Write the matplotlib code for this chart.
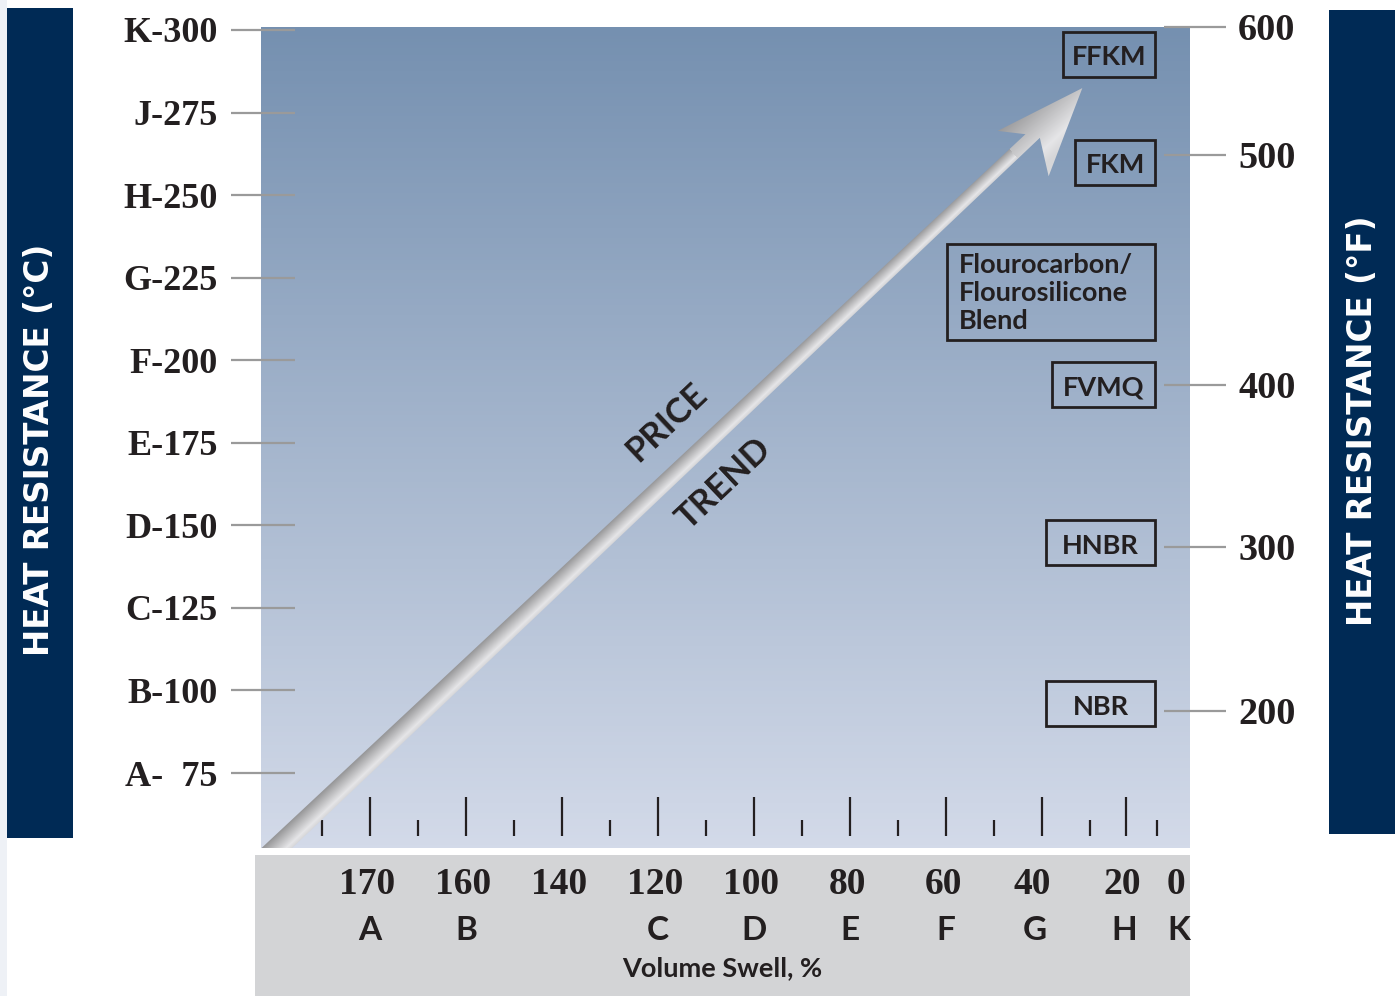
import numpy as np
import matplotlib
matplotlib.use("Agg")
import matplotlib.pyplot as plt
from matplotlib.patches import Rectangle, Polygon
from matplotlib.colors import LinearSegmentedColormap

# ---- chart content -------------------------------------------------------
# Heat-resistance grades on the Celsius scale (left)
c_labels = ["K-300", "J-275", "H-250", "G-225", "F-200",
            "E-175", "D-150", "C-125", "B-100", "A-  75"]
c_values = [300, 275, 250, 225, 200, 175, 150, 125, 100, 75]

# Fahrenheit marks (right) and the Celsius level each one sits at
f_labels = ["600", "500", "400", "300", "200"]
f_at_c = [300.9, 262.2, 192.6, 143.5, 93.9]

# Elastomer families and their heat-resistance level (°C)
materials = ["FFKM", "FKM", "Flourocarbon/\nFlourosilicone\nBlend",
             "FVMQ", "HNBR", "NBR"]
material_c = [292.6, 260.0, 220.7, 192.6, 144.8, 96.0]

# Volume swell classes along the bottom (slot index on the x scale)
swell_labels = ["170", "160", "140", "120", "100", "80", "60", "40", "20", "0"]
swell_grades = ["A", "B", "", "C", "D", "E", "F", "G", "H", "K"]
swell_slot = [0, 1, 2, 3, 4, 5, 6, 6.93, 7.86, 8.42]
major_slots = [0, 1, 2, 3, 4, 5, 6, 7, 7.88]
minor_slots = [-0.5, 0.5, 1.5, 2.5, 3.5, 4.5, 5.5, 6.5, 7.5, 8.2]

# Price trend arrow: from the lower-left corner up to the FFKM level
trend_from = (-0.97, 52.3)
trend_to = (7.42, 282.4)

# ---- styling ---------------------------------------------------------------
W, H, DPI = 1395, 996, 100
NAVY = "#002a55"
INK = "#231f20"
RULE = "#9a9a9a"
SERIF = ["Liberation Serif", "DejaVu Serif"]
SANS = ["Lato", "DejaVu Sans"]
HEAD = ["DejaVu Sans"]
BOX_RIGHT = 1155                       # right edge of the material boxes (px)
BOX_W = [92, 80, 208, 103, 109, 109]   # box widths (px)
BOX_H = [45, 45, 96, 45, 45, 45]       # box heights (px)

fig = plt.figure(figsize=(W / DPI, H / DPI), dpi=DPI)
fig.patch.set_facecolor("white")


def fx(px):
    return px / W


def fy(py):
    return 1 - py / H


def backdrop(x, y, w, h, color):
    # figure-level filled block kept beneath the axes
    fig.patches.append(Rectangle((x, y), w, h, transform=fig.transFigure,
                                 fc=color, ec="none", zorder=-5))


# side bars with rotated axis titles
backdrop(0, 0, fx(7), 1, "#eef1f6")
backdrop(fx(7), fy(838), fx(66), (838 - 8) / H, NAVY)
backdrop(fx(1329), fy(834), fx(66), (834 - 10) / H, NAVY)
fig.text(fx(40), fy(450), "HEAT RESISTANCE (\u00b0C)", rotation=90,
         ha="center", va="center", color="white", fontsize=23.5,
         fontweight="bold", family=HEAD)
fig.text(fx(1362), fy(421), "HEAT RESISTANCE (\u00b0F)", rotation=90,
         ha="center", va="center", color="white", fontsize=23.5,
         fontweight="bold", family=HEAD)

# grey band under the chart holding the swell scale
backdrop(fx(255), 0, (1190 - 255) / W, (996 - 855) / H, "#d3d4d6")

# ---- main panel ------------------------------------------------------------
L, R, T, B = 261, 1190, 27, 848
ax = fig.add_axes([fx(L), fy(B), (R - L) / W, (B - T) / H])
xlim = ((L - 370) / 96, (R - 370) / 96)
ylim = (52.3, 300.9)

bg = LinearSegmentedColormap.from_list("bg", ["#d3dae9", "#7590b0"])
ax.imshow(np.linspace(0, 1, 256)[:, None], extent=(*xlim, *ylim),
          origin="lower", aspect="auto", cmap=bg, zorder=0)
ax.set_xlim(*xlim)
ax.set_ylim(*ylim)
ax.set_axis_off()

ytr = ax.get_yaxis_transform()
xtr = ax.get_xaxis_transform()

# Celsius scale
for lab, v in zip(c_labels, c_values):
    ax.plot([-0.0323, 0.0366], [v, v], transform=ytr, color=RULE, lw=1.6,
            clip_on=False, solid_capstyle="butt", zorder=2)
    ax.text(-0.0463, v, lab, transform=ytr, ha="right", va="center_baseline",
            fontsize=26, fontweight="bold", family=SERIF, color=INK)

# Fahrenheit scale with leader lines
for lab, v in zip(f_labels, f_at_c):
    ax.plot([0.972, 1.039], [v, v], transform=ytr, color=RULE, lw=1.6,
            clip_on=False, solid_capstyle="butt", zorder=2)
    ax.text(1.0517, v, lab, transform=ytr, ha="left", va="center_baseline",
            fontsize=27.5, fontweight="bold", family=SERIF, color=INK)

# swell ticks inside the panel
ax.vlines(major_slots, 0.0146, 0.062, transform=xtr, color=INK, lw=1.6, zorder=2)
ax.vlines(minor_slots, 0.0146, 0.034, transform=xtr, color=INK, lw=1.6, zorder=2)

# swell numbers and grade letters
for s, lab, g in zip(swell_slot, swell_labels, swell_grades):
    ax.text(s - 0.03, -0.039, lab, transform=xtr, ha="center",
            va="center_baseline", fontsize=27, fontweight="bold",
            family=SERIF, color=INK, clip_on=False)
    if g:
        ax.text(s, -0.0974, g, transform=xtr, ha="center", va="center_baseline",
                fontsize=24, fontweight="bold", family=SANS, color=INK, clip_on=False)
fig.text(fx(722), fy(968), "Volume Swell, %", ha="center", va="center",
         fontsize=19.5, fontweight="bold", family=SANS, color=INK)

# ---- overlay in pixel space: material boxes and price-trend arrow ----------
ov = fig.add_axes([0, 0, 1, 1])
ov.set_axis_off()

for lab, v, bw, bh in zip(materials, material_c, BOX_W, BOX_H):
    yc = ax.transData.transform((0, v))[1]
    ov.add_patch(Rectangle((BOX_RIGHT - bw, yc - bh / 2), bw, bh, fc="none",
                           ec=INK, lw=2.0, zorder=4))
    if "\n" in lab:
        ov.text(BOX_RIGHT - bw + 12, yc - 1, lab, ha="left", va="center",
                fontsize=19.5, fontweight="bold", family=SANS, color=INK,
                linespacing=1.2, zorder=4)
    else:
        ov.text(BOX_RIGHT - bw / 2, yc - 1, lab, ha="center",
                va="center_baseline", fontsize=19.5, fontweight="bold",
                family=SANS, color=INK, zorder=4)

p0 = ax.transData.transform(trend_from)
p1 = ax.transData.transform(trend_to)
vec = p1 - p0
length = np.hypot(*vec)
u = vec / length
n = np.array([u[1], -u[0]])          # normal pointing to the lower-right side
angle = np.degrees(np.arctan2(u[1], u[0]))

w_base, w_neck = 10.6, 6.4
head = [(-73, -5.5), (-91, -27.0), (0, 0), (-85, 41.0), (-65, 7.0)]
shape = [(-30, -w_base)] + [(length + ds, r) for ds, r in head] + [(-30, w_base)]
pts = np.array([p0 + s * u + r * n for s, r in shape])

x0, y0 = np.floor(pts.min(axis=0)) - 2
x1, y1 = np.ceil(pts.max(axis=0)) + 2
gx, gy = np.meshgrid(np.arange(x0, x1) + 0.5, np.arange(y0, y1) + 0.5)
dx, dy = gx - p0[0], gy - p0[1]
ss = dx * u[0] + dy * u[1]
rr = dx * n[0] + dy * n[1]
half = np.interp(ss, [0, length - 73], [w_base, w_neck])
half = np.where(ss > length - 95, 30.0, half)
t = np.clip(rr / half, -1, 1)
g = np.interp(t, [-1, 0, 0.6, 1], [0.58, 0.78, 0.90, 0.84])
rgb = np.dstack([g, g, g * 1.01]).clip(0, 1)

im = ov.imshow(rgb, extent=(x0, x1, y0, y1), origin="lower",
               aspect="auto", interpolation="bilinear", zorder=1)
clip = Polygon(pts, closed=True, transform=ov.transData, fc="none", ec="none")
im.set_clip_path(clip)
im.set_clip_box(ax.bbox)
ov.set_xlim(0, W)
ov.set_ylim(0, H)

for word, off in (("PRICE", -42), ("TREND", 42)):
    c = p0 + 575 * u + off * n
    ov.text(c[0], c[1], word, rotation=angle, rotation_mode="anchor",
            ha="center", va="center", fontsize=25, fontweight="bold",
            family=SANS, color=INK, zorder=3)

fig.savefig("out.png", dpi=DPI)
